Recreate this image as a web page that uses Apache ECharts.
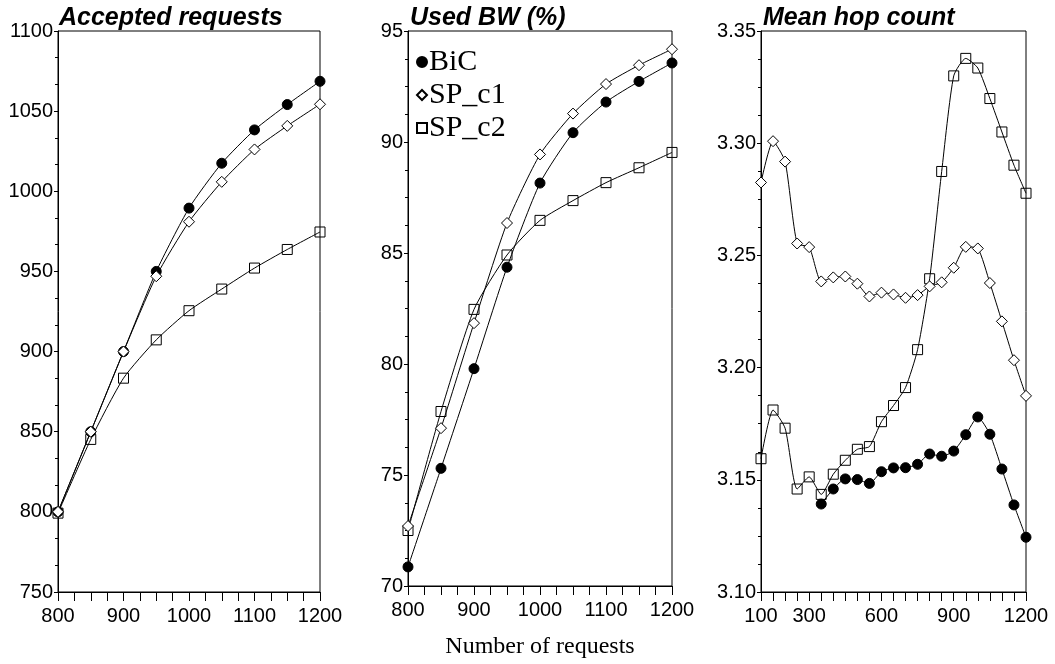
<!DOCTYPE html>
<html>
<head>
<meta charset="utf-8">
<script src="https://cdn.jsdelivr.net/npm/echarts@6/dist/echarts.min.js"></script>
<style>
html,body{margin:0;padding:0;background:#fff;}
#chart{width:1055px;height:664px;}
</style>
</head>
<body>
<div id="chart"></div>
<script>
// ---- Data ----
const seriesNames = ['BiC', 'SP_c1', 'SP_c2'];
const panelTitles = ['Accepted requests', 'Used BW (%)', 'Mean hop count'];
const xTitle = 'Number of requests';

// Panels 1 & 2: x = number of requests
const xReq = [800, 850, 900, 950, 1000, 1050, 1100, 1150, 1200];
const acceptedBiC  = [800, 850, 900, 950, 989.5, 1017.5, 1038.3, 1054.1, 1068.6];
const acceptedSPc1 = [800, 850, 900, 947, 981, 1005.9, 1026.1, 1040.8, 1054.3];
const acceptedSPc2 = [799.2, 845.2, 883.4, 907.3, 925.5, 939, 952.1, 963.7, 974.6];

const bwBiC  = [70.86, 75.3, 79.79, 84.36, 88.15, 90.42, 91.8, 92.73, 93.56];
const bwSPc1 = [72.7, 77.11, 81.84, 86.35, 89.44, 91.28, 92.61, 93.46, 94.18];
const bwSPc2 = [72.5, 77.86, 82.46, 84.91, 86.47, 87.36, 88.17, 88.84, 89.53];

// Panel 3: x = 100..1200 step 50
const xHop = [100, 150, 200, 250, 300, 350, 400, 450, 500, 550, 600, 650, 700, 750,
              800, 850, 900, 950, 1000, 1050, 1100, 1150, 1200];
const hopBiC  = [null, null, null, null, null, 3.1392, 3.1459, 3.1504, 3.1501, 3.1484, 3.1536, 3.1553,
                 3.1554, 3.1569, 3.1615, 3.1605, 3.1628, 3.1701, 3.1780, 3.1703, 3.1548, 3.1388, 3.1244];
const hopSPc1 = [3.2825, 3.3009, 3.2918, 3.2553, 3.2537, 3.2384, 3.2402, 3.2406, 3.2374, 3.2317, 3.2334,
                 3.2326, 3.2311, 3.2323, 3.2362, 3.2380, 3.2445, 3.2538, 3.2531, 3.2377, 3.2206, 3.2033, 3.1874];
const hopSPc2 = [3.1594, 3.1811, 3.1730, 3.1459, 3.1513, 3.1435, 3.1525, 3.1587, 3.1636, 3.1648, 3.1759,
                 3.1831, 3.1911, 3.2080, 3.2396, 3.2874, 3.3300, 3.3378, 3.3335, 3.3199, 3.3050, 3.2902, 3.2777];

const hopXLabels = [100, 300, 600, 900, 1200];

// ---- Helpers ----
function pairs(xs, ys) { return xs.map((x, i) => [x, ys[i]]); }

const SANS = 'Liberation Sans, Arial, sans-serif';
const SERIF = 'Liberation Serif, Times New Roman, serif';

const styles = {
  BiC:   { symbol: 'circle',  symbolSize: 10, itemStyle: { color: '#000', borderColor: '#000', borderWidth: 1 } },
  SP_c1: { symbol: 'diamond', symbolSize: 11, itemStyle: { color: '#fff', borderColor: '#000', borderWidth: 1 } },
  SP_c2: { symbol: 'rect',    symbolSize: 10, itemStyle: { color: 'rgba(255,255,255,0)', borderColor: '#000', borderWidth: 1 } }
};

function mkSeries(name, idx, data) {
  const s = styles[name];
  return {
    name: name, type: 'line', xAxisIndex: idx, yAxisIndex: idx,
    data: data, smooth: 0.2, connectNulls: false,
    symbol: s.symbol, symbolSize: s.symbolSize, showAllSymbol: true,
    itemStyle: s.itemStyle,
    lineStyle: { color: '#000', width: 1 },
    emphasis: { disabled: true },
    animation: false,
    z: name === 'SP_c1' ? 4 : (name === 'BiC' ? 3 : 2)
  };
}

const grids = [
  { left: 58,  top: 31, width: 262, height: 561 },
  { left: 408, top: 31, width: 264, height: 561 },
  { left: 761, top: 31, width: 265, height: 561 }
].map(g => Object.assign(g, { show: true, borderColor: '#000', borderWidth: 1, backgroundColor: 'transparent', containLabel: false }));

const axisLabelStyle = { color: '#000', fontFamily: SANS, fontSize: 20 };

function xAxisBase(idx, min, max, interval, extra) {
  return Object.assign({
    type: 'value', gridIndex: idx, min: min, max: max, interval: interval,
    axisLine: { show: true, lineStyle: { color: '#000', width: 1 } },
    axisTick: { show: true, inside: false, length: 9, lineStyle: { color: '#000' } },
    splitLine: { show: false },
    axisLabel: Object.assign({ margin: 14, showMinLabel: true, showMaxLabel: true,
      formatter: v => String(Math.round(v)) }, axisLabelStyle)
  }, extra || {});
}

function yAxisBase(idx, min, max, interval, minorSplit, decimals) {
  return {
    type: 'value', gridIndex: idx, min: min, max: max, interval: interval,
    axisLine: { show: true, lineStyle: { color: '#000', width: 1 } },
    axisTick: { show: true, inside: false, length: 4, lineStyle: { color: '#000' } },
    minorTick: { show: true, splitNumber: minorSplit, length: 3, lineStyle: { color: '#000' } },
    splitLine: { show: false },
    minorSplitLine: { show: false },
    axisLabel: Object.assign({ margin: 5, showMinLabel: true, showMaxLabel: true,
      formatter: v => Number(v).toFixed(decimals) }, axisLabelStyle)
  };
}

const option = {
  backgroundColor: '#fff',
  animation: false,
  title: panelTitles.map((t, i) => ({
    text: t,
    left: [59, 410, 763][i], top: 6, padding: 0,
    textStyle: { fontFamily: SANS, fontSize: 25, fontWeight: 'bold', fontStyle: 'italic', color: '#000' }
  })),
  legend: {
    data: [
      { name: 'BiC', icon: 'circle' },
      { name: 'SP_c1', icon: 'diamond' },
      { name: 'SP_c2', icon: 'rect' }
    ],
    orient: 'vertical', left: 416, top: 47, padding: 0,
    itemWidth: 10, itemHeight: 10, itemGap: 3,
    selectedMode: false,
    textStyle: { fontFamily: SERIF, fontSize: 30, color: '#000', lineHeight: 30, padding: [0, 0, 0, -3] }
  },
  grid: grids,
  xAxis: [
    xAxisBase(0, 800, 1200, 100, { minorTick: { show: true, splitNumber: 4, length: 9, lineStyle: { color: '#000' } }, minorSplitLine: { show: false } }),
    xAxisBase(1, 800, 1200, 100, {
      minorTick: { show: true, splitNumber: 4, length: 9, lineStyle: { color: '#000' } }, minorSplitLine: { show: false },
      name: xTitle, nameLocation: 'middle', nameGap: 49,
      nameTextStyle: { fontFamily: SERIF, fontSize: 24, color: '#000' }
    }),
    xAxisBase(2, 100, 1200, 50, {
      axisLabel: Object.assign({ margin: 14, showMinLabel: true, showMaxLabel: true,
        formatter: v => hopXLabels.indexOf(Math.round(v)) >= 0 ? String(Math.round(v)) : '' }, axisLabelStyle)
    })
  ],
  yAxis: [
    yAxisBase(0, 750, 1100, 50, 3, 0),
    yAxisBase(1, 70, 95, 5, 4, 0),
    yAxisBase(2, 3.10, 3.35, 0.05, 4, 2)
  ],
  series: [
    mkSeries('SP_c2', 0, pairs(xReq, acceptedSPc2)),
    mkSeries('BiC',   0, pairs(xReq, acceptedBiC)),
    mkSeries('SP_c1', 0, pairs(xReq, acceptedSPc1)),
    mkSeries('SP_c2', 1, pairs(xReq, bwSPc2)),
    mkSeries('BiC',   1, pairs(xReq, bwBiC)),
    mkSeries('SP_c1', 1, pairs(xReq, bwSPc1)),
    mkSeries('SP_c2', 2, pairs(xHop, hopSPc2)),
    mkSeries('BiC',   2, pairs(xHop, hopBiC)),
    mkSeries('SP_c1', 2, pairs(xHop, hopSPc1))
  ]
};

const chart = echarts.init(document.getElementById('chart'), null, { renderer: 'canvas' });
chart.setOption(option);
</script>
</body>
</html>
